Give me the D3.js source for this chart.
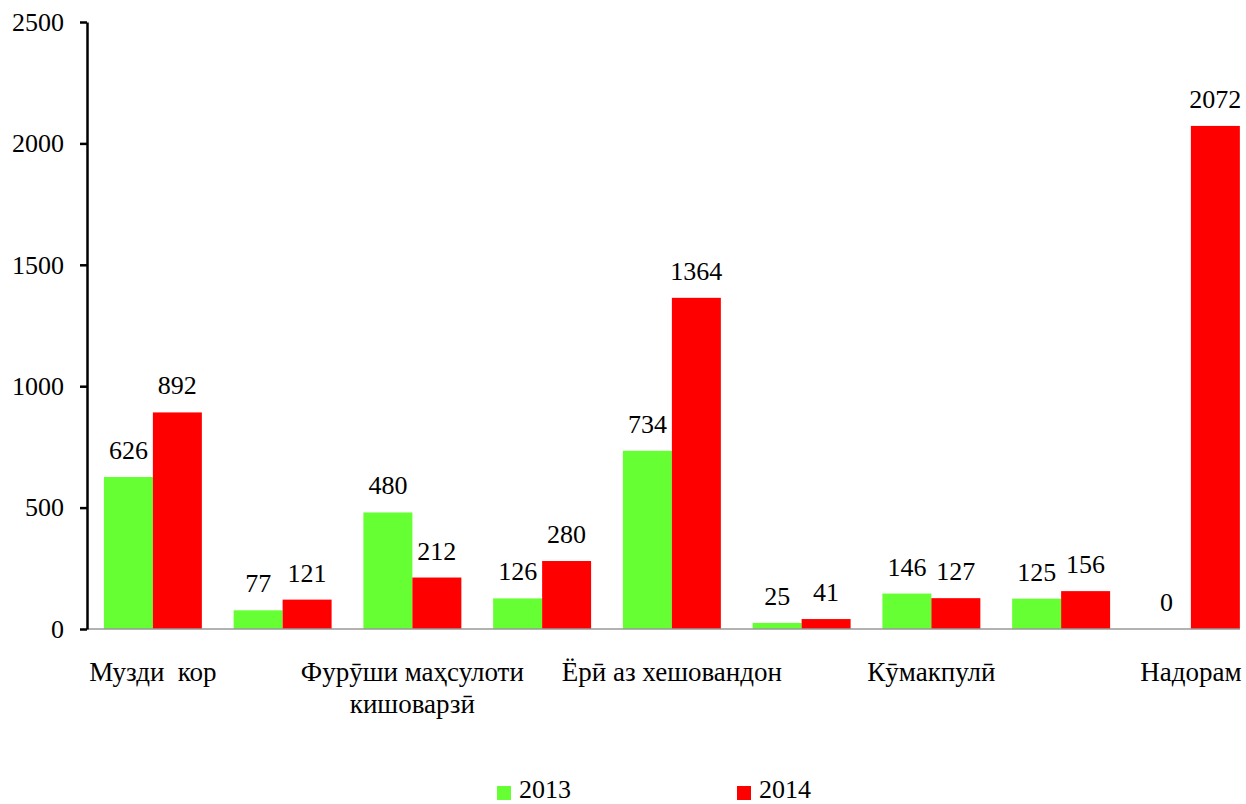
<!DOCTYPE html>
<html>
<head>
<meta charset="utf-8">
<script src="https://cdn.jsdelivr.net/npm/d3@7/dist/d3.min.js"></script>
<style>
  html, body { margin: 0; padding: 0; background: #fff; }
</style>
</head>
<body>
<svg id="chart" width="1246" height="804"></svg>
<script>
// Category labels (the original chart shows only every other label)
const categories = [
  ["Музди  кор"],
  [""],
  ["Фурӯши маҳсулоти", "кишоварзӣ"],
  [""],
  ["Ёрӣ аз хешовандон"],
  [""],
  ["Кӯмакпулӣ"],
  [""],
  ["Надорам"]
];
const seriesNames = ["2013", "2014"];
const values2013 = [626, 77, 480, 126, 734, 25, 146, 125, 0];
const values2014 = [892, 121, 212, 280, 1364, 41, 127, 156, 2072];
const yTicks = [0, 500, 1000, 1500, 2000, 2500];
const colors = ["#66FF33", "#FF0000"];

const FONT = "'Liberation Serif', serif";
const FS = "26px";
const svg = d3.select("#chart");
const plotLeft = 87, plotTop = 22, plotBottom = 629;
const step = 129.75;
const idx = categories.map((d, i) => i);

const x0 = d3.scaleBand().domain(idx)
  .range([88, 88 + step * idx.length])
  .paddingInner(0.245).paddingOuter(0.1225);
const x1 = d3.scaleBand().domain(seriesNames).range([0, x0.bandwidth()]);
const y = d3.scaleLinear().domain([0, 2500]).range([plotBottom, plotTop]);

const series = [values2013, values2014];

// Bars
const groups = svg.append("g").selectAll("g").data(idx).join("g")
  .attr("transform", i => `translate(${x0(i)},0)`);

groups.selectAll("rect")
  .data(i => seriesNames.map((s, k) => ({ s, k, v: series[k][i] })))
  .join("rect")
  .attr("x", d => x1(d.s))
  .attr("y", d => y(d.v))
  .attr("width", x1.bandwidth())
  .attr("height", d => y(0) - y(d.v))
  .attr("fill", d => colors[d.k]);

// Value labels
groups.selectAll("text.val")
  .data(i => seriesNames.map((s, k) => ({ s, k, v: series[k][i] })))
  .join("text")
  .attr("class", "val")
  .attr("x", d => x1(d.s) + x1.bandwidth() / 2)
  .attr("y", d => y(d.v) - 18)
  .attr("text-anchor", "middle")
  .style("font-family", FONT)
  .style("font-size", FS)
  .text(d => d.v);

// X axis line (gray)
svg.append("line")
  .attr("x1", plotLeft).attr("x2", 1240)
  .attr("y1", y(0)).attr("y2", y(0))
  .attr("stroke", "#999").attr("stroke-width", 1.5);

// Y axis
const yAxis = d3.axisLeft(y).tickValues(yTicks).tickFormat(d3.format("d"))
  .tickSize(7).tickPadding(16).tickSizeOuter(0);
const yg = svg.append("g").attr("transform", `translate(${plotLeft},0)`).call(yAxis);
yg.select(".domain").attr("stroke", "#000").attr("stroke-width", 2.5);
yg.selectAll(".tick line").attr("stroke", "#000").attr("stroke-width", 2.5);
yg.selectAll(".tick text").style("font-family", FONT).style("font-size", FS).attr("fill", "#000");

// Category labels
const cl = svg.append("g").selectAll("text").data(idx).join("text")
  .attr("x", i => x0(i) + x0.bandwidth() / 2)
  .attr("y", 681)
  .attr("text-anchor", "middle")
  .style("font-family", FONT)
  .style("font-size", "27px");
cl.selectAll("tspan").data(i => categories[i]).join("tspan")
  .attr("x", function () { return d3.select(this.parentNode).attr("x"); })
  .attr("dy", (d, j) => j === 0 ? 0 : 32)
  .style("white-space", "pre")
  .text(d => d);

// Legend
const legendX = [497, 737];
const lg = svg.append("g").selectAll("g").data(seriesNames).join("g")
  .attr("transform", (d, k) => `translate(${legendX[k]},786)`);
lg.append("rect").attr("width", 14).attr("height", 14).attr("fill", (d, k) => colors[k]);
lg.append("text").attr("x", 22).attr("y", 12)
  .style("font-family", FONT).style("font-size", FS).text(d => d);
</script>
</body>
</html>
